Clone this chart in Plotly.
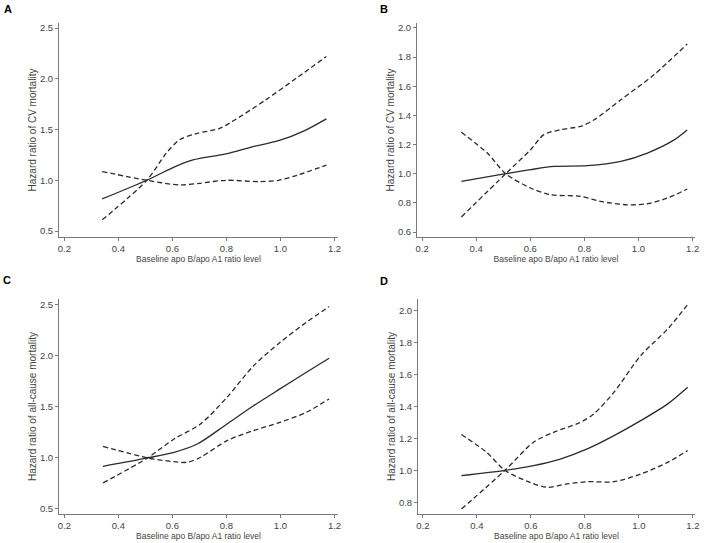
import plotly.graph_objects as go

# ---- Data ----
# Panel A: CV mortality
a_x = [0.34, 0.505, 0.596, 0.676, 0.798, 0.895, 0.993, 1.09, 1.17]
a_hr = [0.816, 1.0, 1.118, 1.20, 1.26, 1.33, 1.39, 1.49, 1.605]
a_up_x = [0.34, 0.505, 0.578, 0.627, 0.688, 0.773, 0.822, 0.944, 1.066, 1.17]
a_up = [0.61, 1.0, 1.27, 1.40, 1.46, 1.51, 1.58, 1.79, 2.02, 2.22]
a_lo_x = [0.34, 0.505, 0.627, 0.70, 0.798, 0.92, 0.993, 1.066, 1.17]
a_lo = [1.086, 1.0, 0.954, 0.97, 1.0, 0.987, 1.0, 1.053, 1.15]

# Panel B: CV mortality
b_x = [0.345, 0.509, 0.601, 0.688, 0.811, 0.935, 1.033, 1.132, 1.18]
b_hr = [0.948, 1.0, 1.028, 1.05, 1.055, 1.085, 1.142, 1.232, 1.30]
b_up_x = [0.345, 0.509, 0.601, 0.65, 0.712, 0.786, 0.836, 0.935, 1.058, 1.18]
b_up = [0.703, 1.0, 1.165, 1.268, 1.302, 1.325, 1.37, 1.508, 1.68, 1.89]
b_lo_x = [0.345, 0.441, 0.509, 0.601, 0.675, 0.786, 0.86, 0.959, 1.033, 1.107, 1.18]
b_lo = [1.284, 1.142, 1.0, 0.902, 0.856, 0.845, 0.81, 0.787, 0.794, 0.833, 0.895]

# Panel C: all-cause mortality
c_x = [0.343, 0.508, 0.606, 0.692, 0.802, 0.90, 0.998, 1.096, 1.18]
c_hr = [0.918, 1.0, 1.055, 1.136, 1.332, 1.51, 1.675, 1.838, 1.975]
c_up_x = [0.343, 0.508, 0.606, 0.704, 0.802, 0.90, 0.998, 1.096, 1.18]
c_up = [0.755, 1.0, 1.185, 1.332, 1.593, 1.90, 2.13, 2.327, 2.48]
c_lo_x = [0.343, 0.508, 0.606, 0.655, 0.704, 0.802, 0.90, 0.998, 1.096, 1.18]
c_lo = [1.113, 1.0, 0.963, 0.957, 1.006, 1.169, 1.267, 1.348, 1.446, 1.577]

# Panel D: all-cause mortality
d_x = [0.343, 0.504, 0.61, 0.709, 0.809, 0.908, 1.007, 1.107, 1.181]
d_hr = [0.967, 1.0, 1.03, 1.071, 1.134, 1.217, 1.311, 1.416, 1.52]
d_up_x = [0.343, 0.504, 0.61, 0.684, 0.783, 0.833, 0.908, 1.007, 1.107, 1.181]
d_up = [0.758, 1.0, 1.176, 1.238, 1.30, 1.353, 1.489, 1.718, 1.885, 2.038]
d_lo_x = [0.343, 0.436, 0.504, 0.597, 0.66, 0.734, 0.809, 0.908, 1.007, 1.107, 1.181]
d_lo = [1.224, 1.113, 1.0, 0.925, 0.894, 0.915, 0.929, 0.929, 0.977, 1.05, 1.124]

x_ticks = [0.2, 0.4, 0.6, 0.8, 1.0, 1.2]
y_ticks_ac = [0.5, 1.0, 1.5, 2.0, 2.5]
y_ticks_b = [0.6, 0.8, 1.0, 1.2, 1.4, 1.6, 1.8, 2.0]
y_ticks_d = [0.8, 1.0, 1.2, 1.4, 1.6, 1.8, 2.0]

x_title = "Baseline apo B/apo A1 ratio level"
y_title_cv = "Hazard ratio of CV mortality"
y_title_all = "Hazard ratio of all-cause mortality"
labels = ["A", "B", "C", "D"]

W, H = 708, 543
LINE = "#2b2b2b"
AXIS = "#7a7a7a"
TXT = "#444444"
FONT = "Liberation Sans, Arial, sans-serif"

def px_dom_x(a, b):
    return [a / W, b / W]

def px_dom_y(top, bottom):
    return [1 - bottom / H, 1 - top / H]

panels = [
    dict(x=a_x, hr=a_hr, ux=a_up_x, up=a_up, lx=a_lo_x, lo=a_lo,
         dx=px_dom_x(59, 338), dy=px_dom_y(23, 237),
         xr=[0.180, 1.213], yr=[0.441, 2.55], yt=y_ticks_ac, ytitle=y_title_cv),
    dict(x=b_x, hr=b_hr, ux=b_up_x, up=b_up, lx=b_lo_x, lo=b_lo,
         dx=px_dom_x(417, 695), dy=px_dom_y(23, 237),
         xr=[0.181, 1.209], yr=[0.566, 2.034], yt=y_ticks_b, ytitle=y_title_cv),
    dict(x=c_x, hr=c_hr, ux=c_up_x, up=c_up, lx=c_lo_x, lo=c_lo,
         dx=px_dom_x(59, 338), dy=px_dom_y(299, 514),
         xr=[0.180, 1.213], yr=[0.451, 2.555], yt=y_ticks_ac, ytitle=y_title_all),
    dict(x=d_x, hr=d_hr, ux=d_up_x, up=d_up, lx=d_lo_x, lo=d_lo,
         dx=px_dom_x(418, 695), dy=px_dom_y(299, 514),
         xr=[0.182, 1.208], yr=[0.727, 2.072], yt=y_ticks_d, ytitle=y_title_all),
]

fig = go.Figure()
layout = dict(
    width=W, height=H,
    margin=dict(l=0, r=0, t=0, b=0, autoexpand=False),
    paper_bgcolor="white", plot_bgcolor="white",
    showlegend=False,
    font=dict(family=FONT, color=TXT, size=9),
)

annotations = []
for i, p in enumerate(panels):
    n = "" if i == 0 else str(i + 1)
    xa, ya = "x" + n, "y" + n
    for xs, ys, dash in [(p["ux"], p["up"], "dash"), (p["lx"], p["lo"], "dash"), (p["x"], p["hr"], "solid")]:
        fig.add_trace(go.Scatter(
            x=xs, y=ys, mode="lines", xaxis=xa, yaxis=ya, cliponaxis=False,
            line=dict(color=LINE, width=1.3, dash=dash if dash == "solid" else "5px,3px", shape="spline", smoothing=0.8),
            hoverinfo="skip"))
    layout["xaxis" + n] = dict(
        domain=p["dx"], range=p["xr"], anchor=ya, automargin=False,
        tickvals=x_ticks, ticktext=[f"{v:.1f}" for v in x_ticks],
        showline=True, linecolor=AXIS, linewidth=1, mirror=False,
        ticks="outside", ticklen=3, tickcolor=AXIS, showgrid=False, zeroline=False,
        tickfont=dict(size=9.5, color=TXT),
        title=dict(text=x_title, font=dict(size=8.5, color=TXT), standoff=0),
    )
    layout["yaxis" + n] = dict(
        domain=p["dy"], range=p["yr"], anchor=xa, automargin=False,
        tickvals=p["yt"], ticktext=[f"{v:.1f}" for v in p["yt"]],
        showline=True, linecolor=AXIS, linewidth=1, mirror=False,
        ticks="outside", ticklen=3, tickcolor=AXIS, showgrid=False, zeroline=False,
        tickfont=dict(size=9.5, color=TXT),
        title=dict(text=p["ytitle"], font=dict(size=10, color=TXT), standoff=1),
    )

label_pos = [(8, 9), (384, 9), (7, 280), (384, 281)]
for lab, (lx, ly) in zip(labels, label_pos):
    annotations.append(dict(
        text=f"<b>{lab}</b>", xref="paper", yref="paper",
        x=lx / W, y=1 - ly / H, xanchor="center", yanchor="middle",
        showarrow=False, font=dict(size=11, color="black", family=FONT)))
layout["annotations"] = annotations

fig.update_layout(**layout)
fig.write_html("out.html", config={"displayModeBar": False, "staticPlot": True},
               post_script="document.body.style.margin='0';document.body.style.padding='0';document.body.style.overflow='hidden';")
